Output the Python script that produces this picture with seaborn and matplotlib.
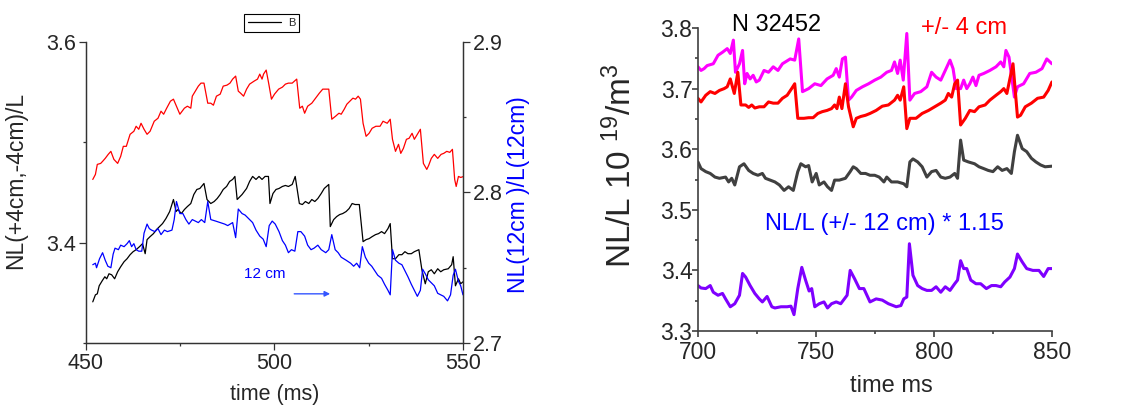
import matplotlib
matplotlib.use("Agg")
import matplotlib.pyplot as plt
from matplotlib.ticker import MultipleLocator
import seaborn as sns

# ---- left panel: shot trend, 450-550 ms ----
# NL(+4cm,-4cm)/L, red, left axis
red_left_t = [451.8, 452.5, 453.0, 453.9, 454.4, 455.1, 455.9, 456.6, 457.4, 458.4,
              459.2, 459.9, 460.7, 461.7, 462.7, 463.3, 464.0, 464.6, 465.4, 466.2,
              467.0, 468.1, 469.1, 469.9, 470.6, 471.4, 472.4, 473.2, 474.9, 476.1,
              476.9, 477.8, 478.2, 479.0, 479.8, 480.5, 481.3, 482.3, 483.1, 483.8,
              484.6, 485.6, 486.4, 487.4, 488.2, 488.9, 489.7, 490.4, 491.0, 491.8,
              492.6, 493.4, 494.6, 495.5, 496.1, 496.7, 497.1, 497.8, 498.5, 499.2,
              500.0, 501.1, 502.1, 502.9, 503.7, 504.7, 505.9, 506.7, 507.4, 508.0,
              508.8, 509.9, 510.9, 511.9, 512.8, 513.6, 514.4, 515.2, 516.2, 517.1,
              517.7, 518.5, 519.2, 520.0, 520.8, 521.5, 522.2, 522.8, 523.5, 524.3,
              525.1, 525.9, 526.9, 528.0, 528.8, 529.9, 530.7, 531.3, 532.1, 532.9,
              533.5, 534.2, 535.0, 535.7, 536.5, 537.1, 537.9, 538.7, 539.5, 540.4,
              540.9, 541.6, 542.4, 543.3, 544.2, 544.9, 545.7, 546.5, 547.2, 547.8,
              548.2, 548.8, 549.4, 550.2]
red_left = [3.463, 3.468, 3.478, 3.479, 3.481, 3.484, 3.488, 3.491, 3.483, 3.479,
            3.486, 3.496, 3.496, 3.508, 3.511, 3.516, 3.513, 3.519, 3.513, 3.508,
            3.511, 3.521, 3.524, 3.531, 3.528, 3.534, 3.541, 3.543, 3.528, 3.534,
            3.536, 3.534, 3.546, 3.551, 3.556, 3.559, 3.559, 3.539, 3.539, 3.537,
            3.546, 3.548, 3.556, 3.557, 3.559, 3.563, 3.566, 3.551, 3.549, 3.546,
            3.553, 3.558, 3.561, 3.563, 3.568, 3.563, 3.568, 3.572, 3.558, 3.543,
            3.548, 3.553, 3.555, 3.558, 3.559, 3.559, 3.563, 3.534, 3.536, 3.529,
            3.536, 3.539, 3.544, 3.549, 3.553, 3.553, 3.553, 3.523, 3.526, 3.529,
            3.528, 3.533, 3.538, 3.541, 3.544, 3.543, 3.546, 3.543, 3.519, 3.506,
            3.509, 3.514, 3.516, 3.516, 3.521, 3.519, 3.523, 3.503, 3.491, 3.498,
            3.489, 3.494, 3.503, 3.504, 3.509, 3.503, 3.508, 3.513, 3.479, 3.473,
            3.477, 3.484, 3.488, 3.484, 3.488, 3.489, 3.491, 3.490, 3.493, 3.463,
            3.456, 3.466, 3.465, 3.466]

# "B", black, left axis
black_left_t = [451.8, 452.5, 453.0, 453.5, 454.3, 455.0, 455.5, 456.1, 456.8, 457.6,
                458.4, 459.2, 460.1, 460.9, 461.7, 462.5, 463.3, 464.2, 465.0, 465.7,
                466.2, 467.0, 467.9, 468.7, 469.5, 470.3, 471.2, 472.2, 473.2, 473.9,
                474.4, 475.3, 476.1, 476.9, 477.8, 478.6, 479.4, 480.2, 481.3, 482.1,
                483.1, 484.0, 484.8, 485.6, 486.4, 487.3, 488.1, 488.9, 489.5, 490.1,
                491.4, 492.6, 493.4, 494.2, 495.1, 495.9, 496.7, 497.5, 498.4, 498.8,
                499.6, 500.4, 501.2, 502.1, 502.9, 503.7, 504.7, 505.5, 506.6, 507.4,
                508.2, 509.1, 509.9, 510.7, 511.5, 512.4, 513.2, 514.4, 514.8, 515.7,
                516.5, 517.3, 518.1, 519.0, 519.8, 520.6, 521.4, 522.5, 523.5, 524.3,
                525.1, 525.9, 526.8, 527.6, 528.4, 529.2, 530.1, 530.7, 531.3, 532.1,
                533.0, 533.8, 534.6, 535.4, 536.3, 537.1, 538.3, 539.1, 540.0, 540.8,
                541.6, 542.4, 543.3, 544.1, 544.9, 546.1, 547.0, 547.4, 548.0, 548.8,
                549.4, 550.0]
black_left = [3.341, 3.348, 3.349, 3.357, 3.362, 3.366, 3.364, 3.369, 3.368, 3.364,
              3.371, 3.376, 3.381, 3.384, 3.388, 3.391, 3.393, 3.396, 3.399, 3.389,
              3.403, 3.406, 3.409, 3.413, 3.416, 3.419, 3.424, 3.431, 3.443, 3.431,
              3.433, 3.429, 3.433, 3.436, 3.439, 3.448, 3.453, 3.454, 3.459, 3.443,
              3.439, 3.441, 3.444, 3.448, 3.453, 3.456, 3.461, 3.463, 3.466, 3.443,
              3.448, 3.454, 3.461, 3.466, 3.463, 3.466, 3.463, 3.466, 3.466, 3.439,
              3.449, 3.453, 3.454, 3.456, 3.457, 3.456, 3.458, 3.466, 3.439, 3.438,
              3.441, 3.439, 3.443, 3.441, 3.444, 3.449, 3.454, 3.458, 3.416, 3.423,
              3.426, 3.428, 3.429, 3.431, 3.434, 3.439, 3.438, 3.438, 3.401, 3.403,
              3.404, 3.406, 3.408, 3.409, 3.411, 3.409, 3.414, 3.419, 3.384, 3.384,
              3.388, 3.388, 3.391, 3.389, 3.389, 3.391, 3.393, 3.373, 3.359, 3.371,
              3.373, 3.369, 3.374, 3.371, 3.373, 3.374, 3.378, 3.386, 3.357, 3.364,
              3.359, 3.361]

# NL(12cm)/L(12cm), blue, right axis
blue_left_t = [451.8, 452.5, 452.8, 453.6, 454.4, 455.1, 455.8, 456.6, 457.2, 457.7,
               458.6, 459.2, 460.1, 460.9, 461.5, 462.1, 462.7, 463.3, 464.0, 464.8,
               465.4, 466.2, 466.8, 467.4, 468.3, 469.1, 469.9, 470.8, 471.6, 472.8,
               473.4, 474.0, 474.9, 475.7, 476.5, 477.3, 478.2, 479.0, 479.8, 480.6,
               481.5, 482.3, 483.1, 484.4, 485.6, 486.8, 487.6, 488.9, 489.7, 490.4,
               491.4, 492.2, 493.4, 494.2, 495.1, 496.1, 497.0, 497.8, 498.6, 499.4,
               500.2, 501.2, 502.1, 502.9, 503.7, 504.5, 505.4, 506.2, 507.0, 508.0,
               508.8, 509.7, 510.5, 511.5, 512.4, 513.6, 514.4, 515.2, 516.1, 516.9,
               517.7, 519.0, 520.2, 521.0, 521.8, 522.6, 523.3, 524.1, 525.0, 525.8,
               526.6, 527.4, 528.4, 529.2, 530.1, 530.7, 531.3, 532.1, 533.0, 533.8,
               534.6, 535.4, 536.3, 537.1, 537.9, 538.7, 539.3, 540.0, 540.8, 541.6,
               542.4, 543.3, 544.1, 544.9, 545.9, 546.7, 547.4, 548.0, 548.8, 549.4,
               550.0]
blue_left = [2.752, 2.753, 2.750, 2.756, 2.760, 2.755, 2.751, 2.750, 2.759, 2.763,
             2.762, 2.765, 2.764, 2.766, 2.768, 2.764, 2.766, 2.762, 2.761, 2.761,
             2.773, 2.779, 2.776, 2.775, 2.774, 2.776, 2.772, 2.775, 2.774, 2.775,
             2.782, 2.794, 2.786, 2.786, 2.782, 2.779, 2.782, 2.781, 2.780, 2.782,
             2.780, 2.794, 2.782, 2.781, 2.780, 2.779, 2.778, 2.780, 2.770, 2.789,
             2.786, 2.785, 2.782, 2.780, 2.775, 2.771, 2.769, 2.764, 2.778, 2.781,
             2.779, 2.774, 2.768, 2.765, 2.760, 2.762, 2.761, 2.774, 2.774, 2.771,
             2.765, 2.762, 2.763, 2.765, 2.762, 2.760, 2.762, 2.772, 2.762, 2.760,
             2.757, 2.755, 2.753, 2.751, 2.753, 2.750, 2.764, 2.757, 2.753, 2.751,
             2.748, 2.745, 2.743, 2.739, 2.735, 2.732, 2.762, 2.755, 2.753, 2.752,
             2.748, 2.744, 2.739, 2.735, 2.731, 2.735, 2.749, 2.746, 2.742, 2.740,
             2.738, 2.733, 2.732, 2.731, 2.728, 2.732, 2.745, 2.749, 2.741, 2.738,
             2.732]

# ---- right panel: shot N 32452, 700-850 ms ----
magenta_t = [700.0, 701.3, 702.6, 703.9, 706.5, 708.5, 710.4, 712.4, 713.7, 715.0,
             715.9, 717.6, 718.9, 719.8, 720.8, 722.1, 723.4, 724.7, 726.0, 728.0,
             729.9, 731.9, 733.9, 735.8, 739.1, 741.0, 742.7, 744.3, 746.9, 749.5,
             752.1, 754.7, 757.3, 758.6, 759.9, 761.2, 762.5, 763.8, 765.1, 767.1,
             769.7, 772.3, 774.9, 777.5, 780.0, 782.0, 783.3, 784.6, 785.7, 787.0,
             788.5, 789.8, 791.8, 794.4, 797.0, 799.0, 800.9, 802.9, 804.8, 806.8,
             808.1, 809.4, 811.3, 812.6, 813.9, 815.2, 816.5, 817.8, 819.1, 821.1,
             823.7, 826.3, 828.3, 829.6, 830.5, 831.8, 834.1, 835.4, 838.0, 840.6,
             843.2, 845.8, 847.8, 850.0]
magenta = [3.736, 3.730, 3.733, 3.738, 3.741, 3.755, 3.760, 3.766, 3.758, 3.780,
           3.727, 3.741, 3.763, 3.708, 3.725, 3.716, 3.722, 3.711, 3.714, 3.730,
           3.727, 3.736, 3.730, 3.741, 3.749, 3.747, 3.782, 3.695, 3.700, 3.708,
           3.705, 3.716, 3.722, 3.733, 3.719, 3.749, 3.752, 3.681, 3.686, 3.697,
           3.703, 3.708, 3.714, 3.719, 3.727, 3.730, 3.744, 3.725, 3.747, 3.714,
           3.791, 3.681, 3.692, 3.695, 3.703, 3.727, 3.719, 3.714, 3.730, 3.747,
           3.733, 3.700, 3.700, 3.714, 3.700, 3.708, 3.719, 3.705, 3.722, 3.725,
           3.730, 3.736, 3.744, 3.736, 3.763, 3.752, 3.686, 3.703, 3.708, 3.725,
           3.727, 3.733, 3.749, 3.741]

red_t = [700.0, 701.3, 703.3, 705.2, 707.2, 709.1, 711.1, 712.4, 713.7, 715.4,
         716.9, 718.2, 720.2, 721.5, 722.8, 724.1, 726.0, 728.0, 729.9, 731.9,
         733.9, 735.8, 737.8, 739.7, 741.0, 742.3, 744.9, 746.9, 748.8, 750.8,
         752.7, 754.7, 756.6, 757.9, 758.9, 759.9, 761.0, 762.5, 763.8, 765.8,
         767.1, 769.0, 771.0, 772.9, 775.5, 778.1, 780.7, 783.3, 784.6, 785.7,
         787.2, 788.5, 789.8, 792.4, 795.0, 797.7, 800.3, 802.9, 804.8, 806.1,
         807.5, 808.8, 810.0, 811.3, 813.3, 815.2, 817.2, 819.1, 821.7, 823.7,
         826.3, 828.3, 829.6, 830.9, 833.5, 835.4, 836.7, 838.7, 841.3, 843.9,
         846.5, 848.4, 850.0]
red = [3.684, 3.678, 3.689, 3.695, 3.692, 3.697, 3.700, 3.703, 3.716, 3.692,
       3.727, 3.673, 3.673, 3.669, 3.673, 3.668, 3.670, 3.670, 3.678, 3.676,
       3.676, 3.684, 3.689, 3.700, 3.708, 3.651, 3.651, 3.652, 3.652, 3.659,
       3.662, 3.664, 3.667, 3.673, 3.667, 3.686, 3.667, 3.708, 3.670, 3.637,
       3.651, 3.654, 3.656, 3.659, 3.664, 3.671, 3.673, 3.681, 3.689, 3.681,
       3.703, 3.634, 3.651, 3.651, 3.659, 3.664, 3.670, 3.676, 3.681, 3.692,
       3.686, 3.708, 3.714, 3.640, 3.651, 3.664, 3.662, 3.670, 3.673, 3.681,
       3.689, 3.695, 3.700, 3.692, 3.741, 3.653, 3.656, 3.670, 3.676, 3.684,
       3.686, 3.697, 3.711]

gray_t = [700.0, 701.3, 703.3, 705.2, 707.2, 709.1, 711.7, 713.0, 714.3, 715.6,
          717.6, 719.5, 721.5, 723.4, 725.4, 727.3, 728.6, 730.6, 732.6, 734.5,
          736.5, 738.4, 740.4, 742.3, 743.6, 745.6, 746.9, 748.4, 750.1, 751.4,
          753.4, 754.9, 756.6, 757.9, 759.9, 762.5, 764.5, 765.8, 767.1, 769.0,
          771.0, 772.9, 774.9, 776.8, 778.8, 780.0, 782.0, 784.6, 787.2, 788.5,
          789.8, 791.1, 793.1, 795.0, 797.0, 799.0, 800.9, 802.9, 804.8, 806.8,
          808.8, 810.0, 811.3, 812.6, 814.6, 817.2, 819.1, 821.1, 823.0, 825.0,
          827.0, 828.9, 830.9, 832.8, 834.1, 835.4, 837.4, 839.3, 841.3, 843.2,
          845.2, 847.1, 850.0]
gray = [3.579, 3.568, 3.563, 3.560, 3.554, 3.552, 3.554, 3.546, 3.552, 3.541,
        3.571, 3.576, 3.565, 3.560, 3.557, 3.560, 3.552, 3.549, 3.546, 3.541,
        3.532, 3.538, 3.532, 3.563, 3.576, 3.571, 3.573, 3.546, 3.560, 3.541,
        3.546, 3.538, 3.532, 3.549, 3.549, 3.552, 3.563, 3.571, 3.568, 3.560,
        3.560, 3.557, 3.557, 3.554, 3.546, 3.554, 3.546, 3.546, 3.543, 3.538,
        3.579, 3.584, 3.579, 3.571, 3.554, 3.563, 3.565, 3.554, 3.552, 3.554,
        3.560, 3.552, 3.615, 3.582, 3.579, 3.576, 3.571, 3.568, 3.565, 3.563,
        3.571, 3.565, 3.568, 3.560, 3.596, 3.623, 3.601, 3.596, 3.585, 3.579,
        3.574, 3.571, 3.572]

purple_t = [700.0, 701.3, 703.3, 705.2, 706.5, 708.5, 710.4, 711.7, 713.7, 715.6,
            717.6, 718.9, 720.2, 722.1, 724.1, 726.0, 727.3, 729.3, 731.3, 732.6,
            735.2, 737.8, 739.4, 740.7, 742.3, 744.0, 745.6, 747.1, 748.2, 749.5,
            751.4, 753.4, 754.9, 756.6, 758.6, 760.5, 763.2, 764.5, 766.4, 768.4,
            770.3, 772.9, 775.5, 778.1, 780.7, 782.7, 784.0, 786.0, 787.2, 788.5,
            789.6, 791.1, 793.1, 795.0, 797.0, 799.0, 800.9, 802.9, 804.8, 806.8,
            808.8, 810.0, 811.3, 812.6, 813.9, 815.6, 817.8, 819.8, 822.2, 824.4,
            826.3, 828.3, 830.0, 832.2, 834.1, 835.4, 837.4, 839.3, 841.9, 844.5,
            846.5, 848.4, 850.0]
purple = [3.375, 3.371, 3.370, 3.375, 3.364, 3.359, 3.362, 3.353, 3.340, 3.345,
          3.359, 3.395, 3.389, 3.375, 3.362, 3.353, 3.348, 3.357, 3.340, 3.338,
          3.340, 3.340, 3.341, 3.327, 3.370, 3.405, 3.384, 3.366, 3.370, 3.340,
          3.345, 3.348, 3.338, 3.345, 3.348, 3.345, 3.359, 3.400, 3.386, 3.370,
          3.370, 3.348, 3.353, 3.351, 3.345, 3.342, 3.340, 3.342, 3.353, 3.356,
          3.444, 3.392, 3.375, 3.370, 3.367, 3.367, 3.373, 3.364, 3.373, 3.367,
          3.378, 3.384, 3.416, 3.403, 3.403, 3.384, 3.378, 3.378, 3.370, 3.375,
          3.375, 3.373, 3.381, 3.389, 3.403, 3.427, 3.414, 3.403, 3.400, 3.400,
          3.390, 3.403, 3.403]

# ---- style ----
sns.set_style("ticks")
plt.rcParams['font.family'] = ['Liberation Sans', 'DejaVu Sans']
plt.rcParams['mathtext.fontset'] = 'custom'
plt.rcParams['mathtext.rm'] = 'Liberation Sans'
plt.rcParams['mathtext.it'] = 'Liberation Sans:italic'

fig = plt.figure(figsize=(11.27, 4.12), dpi=100)
ax1 = fig.add_axes([0.0763, 0.1675, 0.3345, 0.7306])
ax1b = ax1.twinx()
ax3 = fig.add_axes([0.6193, 0.1966, 0.3141, 0.7354])

# left panel lines
sns.lineplot(x=red_left_t, y=red_left, ax=ax1, color='#ff0000', lw=0.9,
             estimator=None, sort=False)
sns.lineplot(x=black_left_t, y=black_left, ax=ax1, color='black', lw=0.9,
             estimator=None, sort=False)
sns.lineplot(x=blue_left_t, y=blue_left, ax=ax1b, color='#0000ff', lw=0.9,
             estimator=None, sort=False)
black_line = ax1.lines[1]

ax1.set_xlim(450, 550)
ax1.set_ylim(3.3, 3.6)
ax1b.set_ylim(2.7, 2.9)
ax1.xaxis.set_major_locator(MultipleLocator(50))
ax1.xaxis.set_minor_locator(MultipleLocator(25))
ax1.yaxis.set_major_locator(MultipleLocator(0.2))
ax1.yaxis.set_minor_locator(MultipleLocator(0.1))
ax1b.yaxis.set_major_locator(MultipleLocator(0.1))
ax1b.yaxis.set_minor_locator(MultipleLocator(0.05))

for a in (ax1, ax1b):
    a.spines['top'].set_visible(False)
    for s in a.spines.values():
        s.set_linewidth(0.9)
        s.set_color('#333333')
    a.tick_params(which='major', direction='out', length=5, width=0.9,
                  color='#333333', labelsize=15.5, pad=2)
    a.tick_params(which='minor', direction='out', length=2.5, width=0.9,
                  color='#333333')

ax1.set_xlabel('time (ms)', fontsize=15.5)
ax1.xaxis.set_label_coords(0.5, -0.135)
ax1.set_ylabel('NL(+4cm,-4cm)/L', fontsize=16.5)
ax1.yaxis.set_label_coords(-0.157, 0.54)
ax1b.set_ylabel('NL(12cm )/L(12cm)', fontsize=16.5, color='#0000ff')
ax1b.yaxis.set_label_coords(1.117, 0.492)

ax1.text(497.3, 3.369, '12 cm', color='#0000ff', fontsize=11,
         ha='center', va='center')
ax1.annotate('', xy=(515.5, 3.349), xytext=(504.5, 3.349),
             arrowprops=dict(arrowstyle='-|>', color='#3355ff', lw=1,
                             mutation_scale=8))

leg = fig.legend(handles=[black_line], labels=['B'], loc='upper center',
                 bbox_to_anchor=(0.241, 0.98), fontsize=8, frameon=True,
                 fancybox=False, edgecolor='black', framealpha=1,
                 handlelength=3.0, handletextpad=0.6, borderpad=0.35)
leg.get_frame().set_linewidth(0.8)

# right panel lines
sns.lineplot(x=magenta_t, y=magenta, ax=ax3, color='#ff00ff', lw=2.2,
             estimator=None, sort=False)
sns.lineplot(x=red_t, y=red, ax=ax3, color='#ff0000', lw=2.2,
             estimator=None, sort=False)
sns.lineplot(x=gray_t, y=gray, ax=ax3, color='#404040', lw=2.2,
             estimator=None, sort=False)
sns.lineplot(x=purple_t, y=purple, ax=ax3, color='#7f00ff', lw=2.2,
             estimator=None, sort=False)

ax3.set_xlim(700, 850)
ax3.set_ylim(3.3, 3.8)
ax3.xaxis.set_major_locator(MultipleLocator(50))
ax3.xaxis.set_minor_locator(MultipleLocator(25))
ax3.yaxis.set_major_locator(MultipleLocator(0.1))
ax3.yaxis.set_minor_locator(MultipleLocator(0.05))
ax3.spines['top'].set_visible(False)
ax3.spines['right'].set_visible(False)
for s in ('left', 'bottom'):
    ax3.spines[s].set_linewidth(1.2)
    ax3.spines[s].set_color('#404040')
ax3.tick_params(which='major', direction='out', length=4, width=1.2,
                color='#404040', labelsize=16.5)
ax3.tick_params(axis='y', which='major', pad=0)
ax3.tick_params(axis='x', which='major', pad=3.5)
ax3.tick_params(which='minor', direction='out', length=2.5, width=1.2,
                color='#404040')

ax3.set_xlabel('time ms', fontsize=17)
ax3.xaxis.set_label_coords(0.547, -0.145)
ax3.set_ylabel('NL/L 10 $^{19}$/m$^{3}$', fontsize=24)
ax3.yaxis.set_label_coords(-0.169, 0.545)

ax3.text(733.2, 3.8055, 'N 32452', color='black', fontsize=17,
         ha='center', va='center', clip_on=False)
ax3.text(812.6, 3.80, '+/- 4 cm', color='#ff0000', fontsize=17,
         ha='center', va='center', clip_on=False)
ax3.text(779.1, 3.477, 'NL/L (+/- 12 cm) * 1.15', color='#0000ff',
         fontsize=17, ha='center', va='center')

fig.savefig('out.png', dpi=100)
